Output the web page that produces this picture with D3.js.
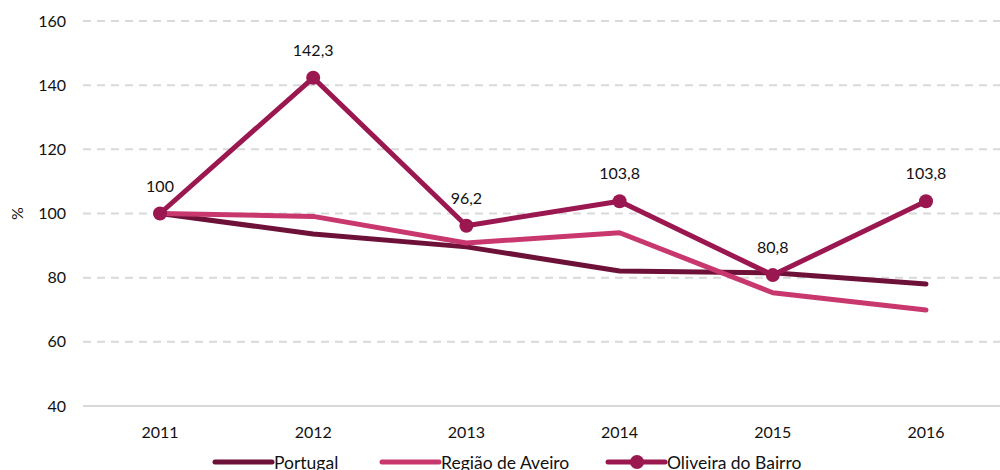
<!DOCTYPE html>
<html><head><meta charset="utf-8">
<script src="https://cdn.jsdelivr.net/npm/d3@7"></script>
<style>body{margin:0;background:#fff}svg{display:block}text{font-family:Lato,"Open Sans",sans-serif;fill:#111}</style>
</head><body><svg id="c" width="1000" height="470"></svg>
<script>
const years = ["2011","2012","2013","2014","2015","2016"];
const portugal = [100, 93.6, 89.6, 82.1, 81.5, 78.0];
const regiao = [100, 99.1, 90.8, 94.0, 75.3, 69.9];
const oliveira = [100, 142.3, 96.2, 103.8, 80.8, 103.8];
const oliveiraLabels = ["100","142,3","96,2","103,8","80,8","103,8"];
const yTicks = [40,60,80,100,120,140,160];
const seriesNames = ["Portugal","Região de Aveiro","Oliveira do Bairro"];
const colors = ["#6e1139","#c8386f","#9a1750"];

const svg = d3.select("#c");
const x = d3.scalePoint().domain(years).range([160, 926]);
const y = d3.scaleLinear().domain([40,160]).range([406, 21]);

svg.append("g").selectAll("line").data(yTicks).join("line")
  .attr("x1",83).attr("x2",1000)
  .attr("y1",d=>y(d)).attr("y2",d=>y(d))
  .attr("stroke","#d9d9d9").attr("stroke-width",2)
  .attr("stroke-dasharray",d=>d===40?null:"8,6");

svg.append("g").selectAll("text").data(yTicks).join("text")
  .attr("x",66).attr("y",d=>y(d)+5.5).attr("text-anchor","end")
  .style("font-size","16px").text(d=>d);
svg.append("text").attr("transform","translate(23,"+y(100)+") rotate(-90)")
  .attr("text-anchor","middle").style("font-size","16px").text("%");

svg.append("g").selectAll("text").data(years).join("text")
  .attr("x",d=>x(d)).attr("y",438).attr("text-anchor","middle")
  .style("font-size","16px").text(d=>d);

const line = d3.line().x((d,i)=>x(years[i])).y(d=>y(d));
[portugal, regiao, oliveira].forEach((s,k)=>{
  svg.append("path").datum(s).attr("d",line).attr("fill","none")
    .attr("stroke",colors[k]).attr("stroke-width",5).attr("stroke-linejoin","round").attr("stroke-linecap","round");
});
svg.append("g").selectAll("circle").data(oliveira).join("circle")
  .attr("cx",(d,i)=>x(years[i])).attr("cy",d=>y(d)).attr("r",7).attr("fill",colors[2]);
svg.append("g").selectAll("text").data(oliveira).join("text")
  .attr("x",(d,i)=>x(years[i])).attr("y",d=>y(d)-22).attr("text-anchor","middle")
  .style("font-size","16px").text((d,i)=>oliveiraLabels[i]);

const legX = [215, 382, 608];
const lg = svg.append("g");
seriesNames.forEach((n,k)=>{
  lg.append("line").attr("x1",legX[k]).attr("x2",legX[k]+57).attr("y1",462).attr("y2",462)
    .attr("stroke",colors[k]).attr("stroke-width",5).attr("stroke-linecap","round");
  if(k===2) lg.append("circle").attr("cx",legX[k]+29).attr("cy",462).attr("r",7).attr("fill",colors[k]);
  lg.append("text").attr("x",legX[k]+59).attr("y",469).style("font-size","17.5px").text(n);
});
</script></body></html>
